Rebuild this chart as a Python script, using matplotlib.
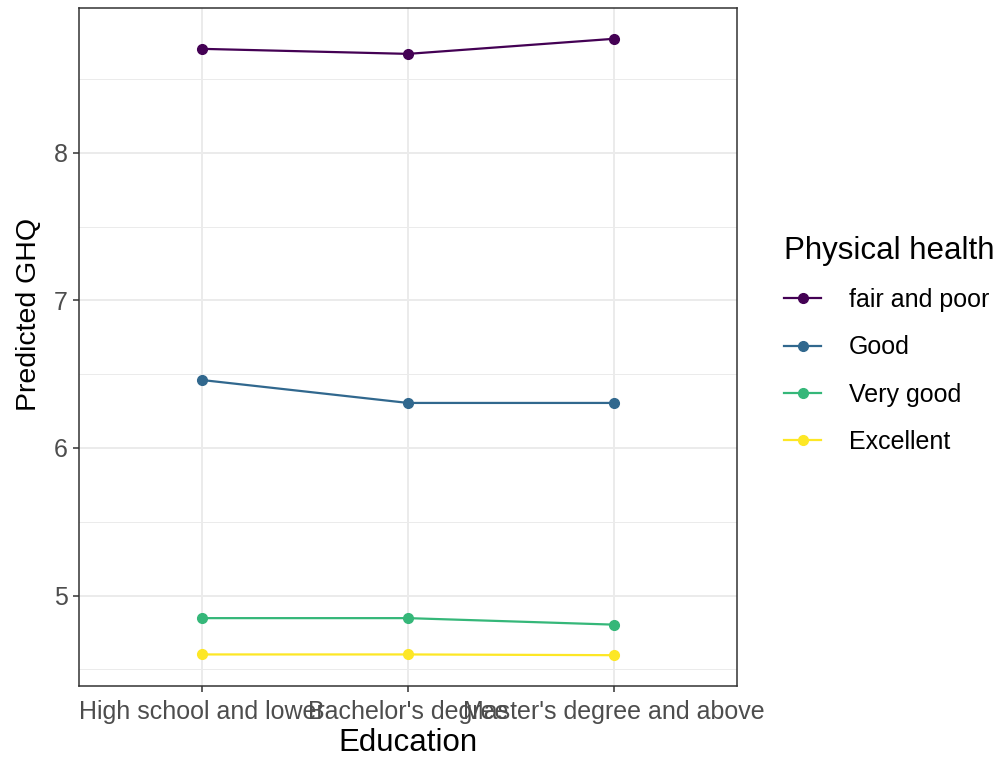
import matplotlib
matplotlib.use("Agg")
import matplotlib.pyplot as plt
from matplotlib.ticker import MultipleLocator

plt.rcParams['font.family'] = ['Liberation Sans', 'DejaVu Sans']

education = ["High school and lower", "Bachelor's degree", "Master's degree and above"]
groups = ["fair and poor", "Good", "Very good", "Excellent"]
fair_poor = [8.704, 8.670, 8.772]
good = [6.460, 6.305, 6.305]
very_good = [4.847, 4.847, 4.803]
excellent = [4.601, 4.601, 4.596]
colors = ["#440154", "#31688E", "#35B779", "#FDE725"]

series = [fair_poor, good, very_good, excellent]

fig = plt.figure(figsize=(10.04, 7.6), dpi=100)
ax = fig.add_axes([79/1004, 1-686/760, (737-79)/1004, (686-8)/760])

x = list(range(1, len(education)+1))
for name, vals, c in zip(groups, series, colors):
    ax.plot(x, vals, color=c, lw=1.6, marker='o', ms=7, label=name)

ax.set_xlim(0.4, 3.6)
allv = [v for s in series for v in s]
lo, hi = min(allv), max(allv)
pad = (hi - lo) * 0.05
ax.set_ylim(lo - pad, hi + pad)

ax.set_xticks(x)
ax.set_xticklabels(education)
ax.yaxis.set_major_locator(MultipleLocator(1))
ax.yaxis.set_minor_locator(MultipleLocator(0.5))
ax.grid(which='major', color='#EBEBEB', lw=1.4)
ax.grid(which='minor', axis='y', color='#EBEBEB', lw=0.7)
ax.set_axisbelow(True)
for s in ax.spines.values():
    s.set_color('#333333')
    s.set_linewidth(1.1)
ax.tick_params(which='major', length=4, width=1.1, color='#333333', labelcolor='#4D4D4D', labelsize=18, pad=4)
ax.tick_params(axis='x', pad=6)
ax.tick_params(which='minor', length=0)

ax.set_xlabel("Education", fontsize=22.5, labelpad=3)
ax.set_ylabel("Predicted GHQ", fontsize=20.5)
ax.yaxis.set_label_coords(-50/658, (686-314)/678)
ax.yaxis.label.set_va('center')

leg = ax.legend(title="Physical health", loc='center left', bbox_to_anchor=(1.056, 0.503),
                frameon=False, fontsize=18, title_fontsize=22.5, handlelength=1.5,
                labelspacing=0.93, handletextpad=1.1, alignment='left', borderaxespad=0)
leg._legend_box.sep = 16

fig.savefig("out.png", dpi=100)
